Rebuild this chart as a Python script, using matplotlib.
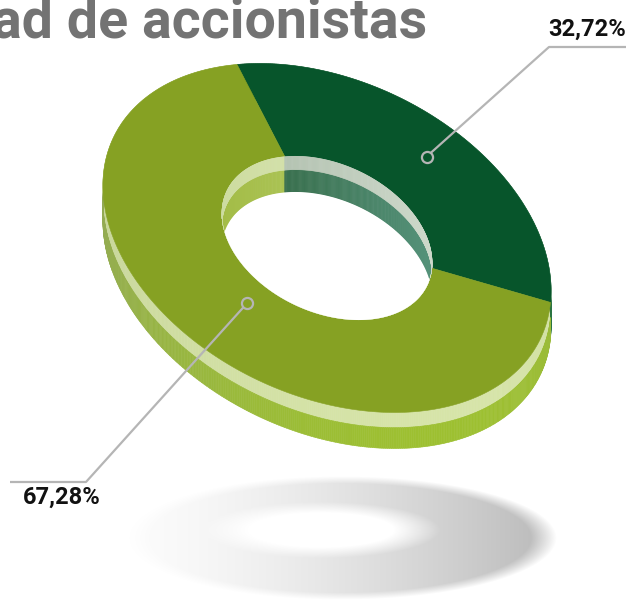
import numpy as np
import matplotlib.pyplot as plt
from matplotlib.collections import PolyCollection
from matplotlib.patches import Polygon
from matplotlib.colors import to_rgb

title = 'ad de accionistas'
labels = ['32,72%', '67,28%']
values = [32.72, 67.28]
top_colors = ['#07552b', '#86a123']
# (dim, bright) shades for the ring walls
wall_band = [('#6f9c7c', '#9cc1a5'), ('#c3d196', '#d6e4a8')]
wall_side = [('#1c5830', '#2f7d47'), ('#90a45e', '#9dc031')]
inner_band = [('#a8b9a6', '#cdd8ca'), ('#cddca0', '#dfe9bc')]
inner_side = [('#285d36', '#55927a'), ('#a3bc47', '#b9d068')]

W, H = 628, 601
CX, CY = 327, 238
A, B = 236, 158
TILT = np.deg2rad(25)
DEPTH = 36
HOLE = 0.47
START = np.deg2rad(-131)

label_r = [0.77, 0.62]
elbows = [(549, 47), (86, 482)]
ends = [(626, 47), (10, 482)]
text_pos = [(587, 29), (62, 497)]


def proj(phi, r=1.0, dz=0.0):
    phi = np.atleast_1d(phi)
    u = r * A * np.cos(phi)
    v = r * B * np.sin(phi)
    x = CX + u * np.cos(TILT) - v * np.sin(TILT)
    y = CY + u * np.sin(TILT) + v * np.cos(TILT) + dz
    return np.column_stack([x, y])


def mix(c0, c1, f):
    return tuple((1 - f) * np.array(to_rgb(c0)) + f * np.array(to_rgb(c1)))


edges = START + np.concatenate([[0], np.cumsum(values)]) / sum(values) * 2 * np.pi


def wall_quads(r, z0, z1, shades, light):
    polys, cols, keys = [], [], []
    for i in range(len(values)):
        n = max(int(np.degrees(edges[i + 1] - edges[i]) * 2), 2)
        phis = np.linspace(edges[i], edges[i + 1], n)
        for p0, p1 in zip(phis[:-1], phis[1:]):
            top = proj([p0, p1], r, z0)
            bot = proj([p1, p0], r, z1)
            polys.append(np.vstack([top, bot]))
            f = 0.5 + 0.5 * np.cos((p0 + p1) / 2 - light)
            cols.append(mix(shades[i][0], shades[i][1], f))
            keys.append(top[:, 1].mean())
    return polys, cols, keys


fig = plt.figure(figsize=(6.28, 6.01), dpi=100)
ax = fig.add_axes([0, 0, 1, 1])

# soft shadow under the ring
gx, gy = np.meshgrid(np.arange(W) + 0.5, np.arange(440, H) + 0.5)
d_out = np.sqrt(((gx - 340) / 217) ** 2 + ((gy - 538) / 62) ** 2)
d_in = np.sqrt(((gx - 322) / 118) ** 2 + ((gy - 530) / 28) ** 2)
inside = np.clip((1 - d_out) / 0.12, 0, 1)
hole_fade = 1 - np.clip((1 - d_in) / 0.4, 0, 1)
grad = 0.015 + 0.26 * np.clip((gx - 120) / 430, 0, 1) ** 1.5
img = np.zeros(gx.shape + (4,))
img[..., 3] = inside * hole_fade * grad
ax.imshow(img, extent=(0, W, H, 440), aspect='auto', interpolation='bilinear', zorder=1)

# outer wall: highlight band then side
for z0, z1, shades in [(0, 0.42 * DEPTH, wall_band), (0.42 * DEPTH, DEPTH, wall_side)]:
    polys, cols, _ = wall_quads(1.0, z0, z1, shades, np.deg2rad(40))
    ax.add_collection(PolyCollection(polys, facecolors=cols, edgecolors=cols, linewidths=0.4, zorder=2))

# top face
for i in range(len(values)):
    phis = np.linspace(edges[i], edges[i + 1], 200)
    pts = np.vstack([proj(phis, 1.0), proj(phis[::-1], HOLE)])
    ax.add_patch(Polygon(pts, closed=True, facecolor=top_colors[i], edgecolor=top_colors[i], lw=0.4, zorder=3))

# inner wall seen through the hole
clip = Polygon(proj(np.linspace(0, 2 * np.pi, 300), HOLE), closed=True, transform=ax.transData)
for z0, z1, shades in [(0, 0.38 * DEPTH, inner_band), (0.38 * DEPTH, DEPTH, inner_side)]:
    polys, cols, keys = wall_quads(HOLE, z0, z1, shades, np.deg2rad(-20))
    order = np.argsort(keys)[::-1]
    coll = PolyCollection([polys[k] for k in order], facecolors=[cols[k] for k in order],
                          edgecolors=[cols[k] for k in order], linewidths=0.4, zorder=4 if z0 == 0 else 3.5)
    ax.add_collection(coll)
    coll.set_clip_path(clip)
hole_patch = Polygon(proj(np.linspace(0, 2 * np.pi, 300), HOLE, DEPTH), closed=True,
                     facecolor='white', edgecolor='none', zorder=5)
ax.add_patch(hole_patch)
hole_patch.set_clip_path(clip)

# leader lines and labels
for i in range(len(values)):
    mid = (edges[i] + edges[i + 1]) / 2
    mx, my = proj(mid, label_r[i])[0]
    ax.plot([mx, elbows[i][0], ends[i][0]], [my, elbows[i][1], ends[i][1]],
            color='#b5b5b5', lw=1.6, zorder=6, solid_capstyle='butt')
    ax.plot(mx, my, 'o', ms=8, mfc=top_colors[i], mec='#b5b5b5', mew=1.6, zorder=7)
    ax.text(*text_pos[i], labels[i], ha='center', va='center', fontsize=17,
            fontweight='bold', family='Roboto', color='#111111', zorder=8)

ax.text(427, 38, title, ha='right', va='baseline', fontsize=40, fontweight='bold',
        family='Roboto', color='#737373', zorder=8)

ax.set_xlim(0, W)
ax.set_ylim(H, 0)
ax.axis('off')
fig.savefig('out.png', dpi=100)
